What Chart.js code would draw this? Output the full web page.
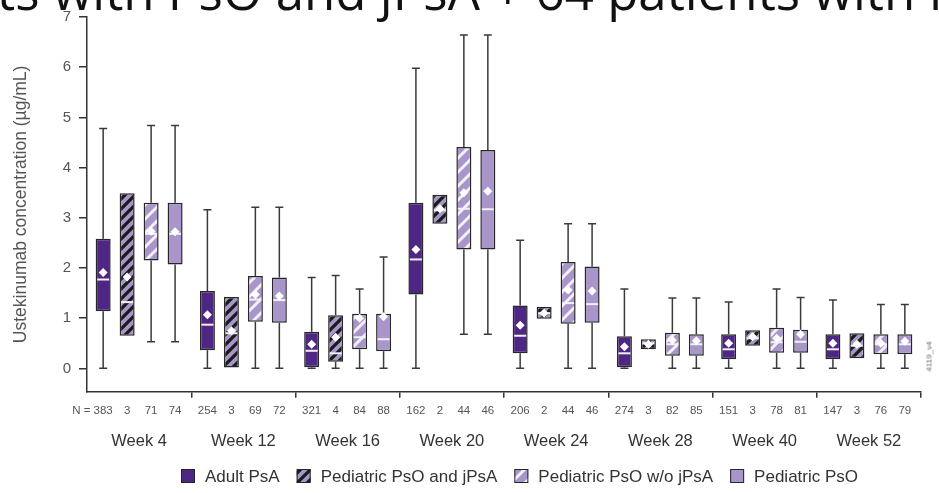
<!DOCTYPE html>
<html><head><meta charset="utf-8">
<script src="https://cdn.jsdelivr.net/npm/chart.js@4.4.0/dist/chart.umd.min.js"></script>
<style>
html,body{margin:0;padding:0;background:#fff;overflow:hidden}
#wrap{position:relative;width:939px;height:493px;overflow:hidden;background:#fff}
#c{position:absolute;left:0;top:0}
#title{position:absolute;left:-3px;top:-35px;font:51px 'Open Sans',sans-serif;line-height:51px;white-space:nowrap;color:#111}
#code{position:absolute;left:914px;top:352px;font:8px 'Liberation Sans',Arial,sans-serif;color:#666;transform:rotate(-90deg);transform-origin:center;white-space:nowrap}
</style></head>
<body><div id="wrap"><canvas id="c" width="939" height="493"></canvas>
<div id="title">ts with PsO and jPsA + 64 patients with I</div>
<div id="code">4119_v4</div></div>
<script>
// ---- data ----
const weeks = ['Week 4','Week 12','Week 16','Week 20','Week 24','Week 28','Week 40','Week 52'];
const seriesNames = ['Adult PsA','Pediatric PsO and jPsA','Pediatric PsO w/o jPsA','Pediatric PsO'];
const yTicks = [0,1,2,3,4,5,6,7];

const adultN    = [383,254,321,162,206,274,151,147];
const adultLo   = [0,0,0,0,0,0,0,0];
const adultQ1   = [1.14,0.36,0.02,1.47,0.30,0.02,0.18,0.18];
const adultMed  = [1.77,0.87,0.35,2.17,0.65,0.30,0.38,0.38];
const adultQ3   = [2.58,1.54,0.73,3.30,1.25,0.64,0.68,0.68];
const adultHi   = [4.78,3.16,1.81,5.98,2.55,1.58,1.32,1.36];
const adultMean = [1.91,1.07,0.48,2.37,0.86,0.43,0.50,0.50];

const pedJN    = [3,3,4,2,2,3,3,3];
const pedJLo   = [null,null,0,null,null,null,null,null];
const pedJQ1   = [0.65,0.00,0.13,2.88,0.99,0.38,0.45,0.20];
const pedJMed  = [1.32,0.70,0.30,3.15,1.10,0.50,0.60,0.45];
const pedJQ3   = [3.49,1.42,1.06,3.46,1.22,0.58,0.76,0.70];
const pedJHi   = [null,null,1.85,null,null,null,null,null];
const pedJMean = [1.82,0.75,0.62,3.18,1.10,0.48,0.63,0.48];

const pedWN    = [71,69,84,44,44,82,78,76];
const pedWLo   = [0.53,0,0,0.68,0,0,0,0];
const pedWQ1   = [2.15,0.93,0.38,2.37,0.89,0.25,0.31,0.28];
const pedWMed  = [2.68,1.37,0.62,3.18,1.30,0.48,0.52,0.48];
const pedWQ3   = [3.30,1.84,1.09,4.41,2.12,0.71,0.81,0.68];
const pedWHi   = [4.84,3.21,1.58,6.64,2.88,1.40,1.58,1.27];
const pedWMean = [2.73,1.47,1.00,3.50,1.56,0.56,0.60,0.50];

const pedN    = [74,72,88,46,46,85,81,79];
const pedLo   = [0.53,0,0,0.68,0,0,0,0];
const pedQ1   = [2.07,0.91,0.34,2.37,0.91,0.25,0.31,0.28];
const pedMed  = [2.68,1.36,0.58,3.17,1.28,0.48,0.53,0.48];
const pedQ3   = [3.30,1.81,1.09,4.35,2.03,0.68,0.77,0.68];
const pedHi   = [4.84,3.21,2.22,6.64,2.88,1.40,1.41,1.27];
const pedMean = [2.72,1.44,1.03,3.53,1.54,0.55,0.68,0.54];

// ---- styling ----
const DARK = '#4e2683', LIGHT = '#a895c9';
const FONT = "'Liberation Sans', Arial, sans-serif";
function stripes(bg, fg, size, lw){
  const c=document.createElement('canvas'); c.width=c.height=size;
  const g=c.getContext('2d'); g.fillStyle=bg; g.fillRect(0,0,size,size);
  g.strokeStyle=fg; g.lineWidth=lw; g.lineCap='square'; g.beginPath();
  g.moveTo(0,size); g.lineTo(size,0);
  g.moveTo(-size/2,size/2); g.lineTo(size/2,-size/2);
  g.moveTo(size/2,size*1.5); g.lineTo(size*1.5,size/2);
  g.stroke();
  return c.getContext('2d').createPattern(c,'repeat');
}
const patBlack = stripes(LIGHT,'#1a1a1a',10,3.2);
const patWhite = stripes(LIGHT,'#f4f0fa',14,3);
const fills = [DARK, patBlack, patWhite, LIGHT];

const stats = [
  {n:adultN,lo:adultLo,q1:adultQ1,med:adultMed,q3:adultQ3,hi:adultHi,mean:adultMean},
  {n:pedJN,lo:pedJLo,q1:pedJQ1,med:pedJMed,q3:pedJQ3,hi:pedJHi,mean:pedJMean},
  {n:pedWN,lo:pedWLo,q1:pedWQ1,med:pedWMed,q3:pedWQ3,hi:pedWHi,mean:pedWMean},
  {n:pedN,lo:pedLo,q1:pedQ1,med:pedMed,q3:pedQ3,hi:pedHi,mean:pedMean}
];

const datasets = seriesNames.map((name,di)=>({
  label:name,
  data: stats[di].q1.map((v,i)=>[v, stats[di].q3[i]]),
  backgroundColor: fills[di],
  borderColor:'#262626', borderWidth:1.5, borderSkipped:false,
  categoryPercentage:0.92, barPercentage:0.625
}));

const boxExtras = {
  id:'boxExtras',
  beforeDatasetsDraw(chart){
    const ctx=chart.ctx, ys=chart.scales.y;
    chart.data.datasets.forEach((ds,di)=>{
      const st=stats[di];
      chart.getDatasetMeta(di).data.forEach((bar,i)=>{
        const x=bar.x;
        ctx.save(); ctx.strokeStyle='#3a3a3a'; ctx.lineWidth=1.5;
        const segs=[[st.hi[i],st.q3[i]],[st.lo[i],st.q1[i]]];
        segs.forEach(([w,b])=>{
          if(w==null) return;
          const yw=ys.getPixelForValue(w), yb=ys.getPixelForValue(b);
          ctx.beginPath(); ctx.moveTo(x,yw); ctx.lineTo(x,yb);
          ctx.moveTo(x-4,yw); ctx.lineTo(x+4,yw); ctx.stroke();
        });
        ctx.restore();
      });
    });
  },
  afterDatasetsDraw(chart){
    const ctx=chart.ctx, ys=chart.scales.y;
    chart.data.datasets.forEach((ds,di)=>{
      const st=stats[di];
      chart.getDatasetMeta(di).data.forEach((bar,i)=>{
        const x=bar.x, hw=bar.width/2-1.5;
        ctx.save();
        ctx.strokeStyle='#f4f0fa'; ctx.lineWidth=2;
        const ym=ys.getPixelForValue(st.med[i]);
        ctx.beginPath(); ctx.moveTo(x-hw,ym); ctx.lineTo(x+hw,ym); ctx.stroke();
        const yv=ys.getPixelForValue(st.mean[i]), r=4.5;
        ctx.fillStyle='#ffffff';
        ctx.beginPath(); ctx.moveTo(x,yv-r); ctx.lineTo(x+r,yv); ctx.lineTo(x,yv+r); ctx.lineTo(x-r,yv); ctx.closePath(); ctx.fill();
        ctx.restore();
      });
    });
  },
  afterDraw(chart){
    const ctx=chart.ctx, ca=chart.chartArea;
    ctx.save();
    // N counts under each box
    ctx.font="11.5px "+FONT; ctx.fillStyle='#555';
    ctx.textBaseline='middle'; ctx.textAlign='center';
    const y=ca.bottom+19.5;
    chart.data.datasets.forEach((ds,di)=>{
      chart.getDatasetMeta(di).data.forEach((bar,i)=>{
        const t=String(stats[di].n[i]);
        ctx.fillText(t,bar.x,y);
        if(di===0&&i===0){
          ctx.textAlign='right';
          ctx.fillText('N = ',bar.x-ctx.measureText(t).width/2,y);
          ctx.textAlign='center';
        }
      });
    });
    // legend
    ctx.font="17px "+FONT; ctx.textAlign='left'; ctx.fillStyle='#333';
    let lx=181; const ly=476, bs=14;
    chart.data.datasets.forEach((ds,di)=>{
      ctx.fillStyle=ds.backgroundColor;
      ctx.fillRect(lx,ly-bs/2,bs,bs);
      ctx.strokeStyle='#262626'; ctx.lineWidth=1;
      ctx.strokeRect(lx+0.5,ly-bs/2+0.5,bs-1,bs-1);
      lx+=bs+10;
      ctx.fillStyle='#333';
      ctx.fillText(ds.label,lx,ly+1);
      lx+=ctx.measureText(ds.label).width+17;
    });
    ctx.restore();
  }
};

new Chart(document.getElementById('c'),{
  type:'bar',
  data:{labels:weeks,datasets},
  plugins:[boxExtras],
  options:{
    responsive:false, animation:false, devicePixelRatio:1,
    layout:{padding:{left:0,right:18,top:16.3,bottom:33.3}},
    plugins:{ tooltip:{enabled:false}, legend:{display:false} },
    scales:{
      x:{
        offset:true,
        grid:{display:true,offset:true,drawOnChartArea:false,drawTicks:true,tickLength:6,
              color:(c)=>(c.index===0||c.index===weeks.length)?'rgba(0,0,0,0)':'#333',lineWidth:1.5},
        border:{display:true,color:'#333',width:1.5},
        ticks:{font:{family:FONT,size:16.5},color:'#333',padding:34,autoSkip:false,maxRotation:0},
        afterFit:(s)=>{s.height=68;}
      },
      y:{
        min:-0.465, max:7,
        afterBuildTicks:(s)=>{s.ticks=yTicks.map(v=>({value:v}));},
        grid:{display:true,drawOnChartArea:false,drawTicks:true,tickLength:8,color:'#333',lineWidth:1.5},
        border:{display:true,color:'#333',width:1.5},
        ticks:{font:{family:FONT,size:15},color:'#555',padding:8},
        title:{display:true,text:'Ustekinumab concentration (µg/mL)',color:'#555',
               font:{family:FONT,size:17.5},padding:{top:11,bottom:0}},
        afterFit:(s)=>{s.width=87;}
      }
    }
  }
});
</script>
</body></html>
